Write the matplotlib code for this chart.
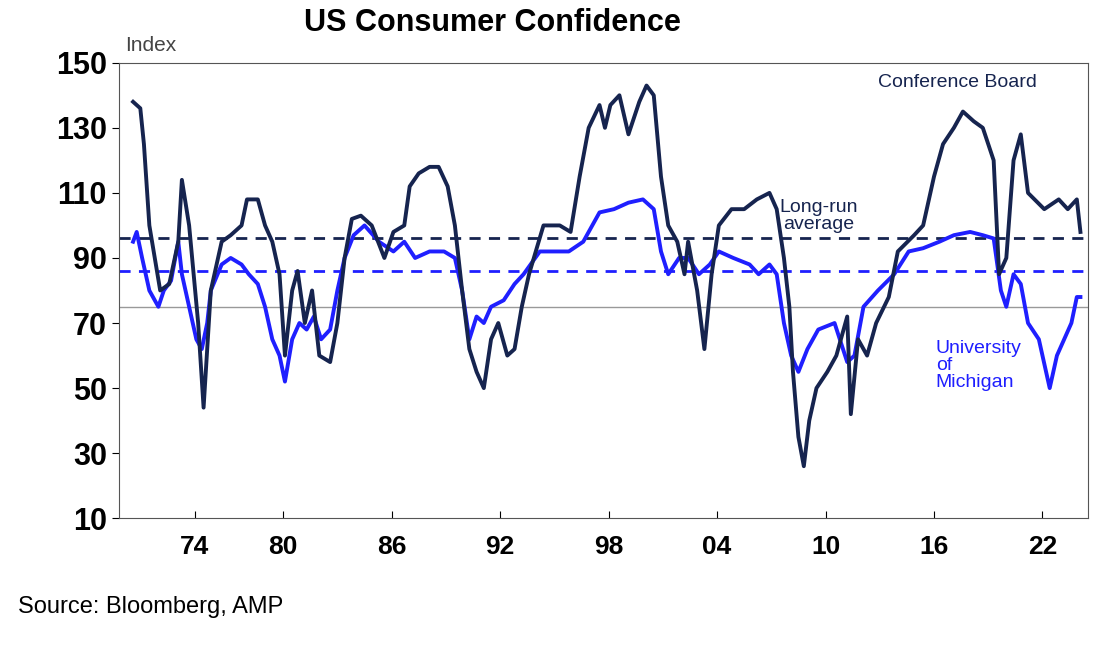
import matplotlib.pyplot as plt

plt.rcParams['font.family'] = ['Liberation Sans', 'DejaVu Sans']

# Conference Board index
cb_years = [1971.7, 1972.1, 1972.3, 1972.6, 1973.2, 1973.7, 1974.2, 1974.4, 1974.8, 1975.3,
            1975.6, 1976.0, 1976.6, 1977.1, 1977.7, 1978.0, 1978.6, 1979.0, 1979.4, 1979.8,
            1980.1, 1980.5, 1980.8, 1981.2, 1981.6, 1982.0, 1982.6, 1983.0, 1983.4, 1983.8,
            1984.3, 1984.9, 1985.6, 1986.1, 1986.7, 1987.0, 1987.5, 1988.1, 1988.6, 1989.1,
            1989.5, 1989.9, 1990.3, 1990.7, 1991.1, 1991.5, 1991.9, 1992.4, 1992.8, 1993.2,
            1993.6, 1994.4, 1995.3, 1995.9, 1996.4, 1996.9, 1997.5, 1997.8, 1998.1, 1998.6,
            1999.1, 1999.7, 2000.1, 2000.5, 2000.9, 2001.3, 2001.8, 2002.2, 2002.4, 2002.9,
            2003.3, 2003.7, 2004.1, 2004.8, 2005.5, 2006.2, 2006.9, 2007.3, 2007.7, 2008.0,
            2008.2, 2008.5, 2008.8, 2009.1, 2009.5, 2010.1, 2010.6, 2011.2, 2011.4, 2011.8,
            2012.3, 2012.8, 2013.5, 2014.0, 2014.9, 2015.4, 2016.0, 2016.5, 2017.1, 2017.6,
            2018.2, 2018.7, 2019.3, 2019.6, 2020.0, 2020.4, 2020.8, 2021.2, 2022.1, 2022.9,
            2023.4, 2023.9, 2024.1]
cb_values = [138, 136, 125, 100, 80, 82, 95, 114, 100, 70,
             44, 80, 95, 97, 100, 108, 108, 100, 95, 85,
             60, 80, 86, 70, 80, 60, 58, 70, 90, 102,
             103, 100, 90, 98, 100, 112, 116, 118, 118, 112,
             100, 80, 62, 55, 50, 65, 70, 60, 62, 75,
             85, 100, 100, 98, 115, 130, 137, 130, 137, 140,
             128, 138, 143, 140, 115, 100, 95, 85, 95, 80,
             62, 85, 100, 105, 105, 108, 110, 105, 90, 75,
             55, 35, 26, 40, 50, 55, 60, 72, 42, 65,
             60, 70, 78, 92, 97, 100, 115, 125, 130, 135,
             132, 130, 120, 85, 90, 120, 128, 110, 105, 108,
             105, 108, 98]

# University of Michigan sentiment
um_years = [1971.7, 1971.9, 1972.2, 1972.6, 1973.1, 1973.4, 1973.8, 1974.2, 1974.4, 1974.8,
            1975.2, 1975.5, 1975.8, 1976.0, 1976.6, 1977.1, 1977.7, 1978.1, 1978.6, 1979.0,
            1979.4, 1979.8, 1980.1, 1980.5, 1980.9, 1981.3, 1981.7, 1982.1, 1982.6, 1983.0,
            1983.4, 1983.9, 1984.5, 1985.3, 1986.1, 1986.7, 1987.3, 1988.1, 1988.9, 1989.5,
            1989.9, 1990.3, 1990.7, 1991.1, 1991.5, 1992.2, 1992.8, 1993.3, 1994.2, 1995.0,
            1995.8, 1996.6, 1997.5, 1998.3, 1999.1, 1999.9, 2000.5, 2000.9, 2001.3, 2001.9,
            2002.4, 2003.0, 2003.6, 2004.1, 2004.9, 2005.8, 2006.3, 2006.9, 2007.3, 2007.7,
            2008.1, 2008.5, 2009.0, 2009.6, 2010.5, 2011.2, 2011.6, 2012.1, 2012.9, 2013.8,
            2014.6, 2015.4, 2016.3, 2017.1, 2018.0, 2018.7, 2019.3, 2019.7, 2020.0, 2020.4,
            2020.8, 2021.2, 2021.8, 2022.2, 2022.4, 2022.8, 2023.2, 2023.6, 2023.9, 2024.1]
um_values = [95, 98, 90, 80, 75, 80, 83, 95, 85, 75,
             65, 62, 70, 80, 88, 90, 88, 85, 82, 75,
             65, 60, 52, 65, 70, 68, 72, 65, 68, 80,
             90, 97, 100, 95, 92, 95, 90, 92, 92, 90,
             80, 65, 72, 70, 75, 77, 82, 85, 92, 92,
             92, 95, 104, 105, 107, 108, 105, 92, 85, 90,
             90, 85, 88, 92, 90, 88, 85, 88, 85, 70,
             60, 55, 62, 68, 70, 58, 60, 75, 80, 85,
             92, 93, 95, 97, 98, 97, 96, 80, 75, 85,
             82, 70, 65, 55, 50, 60, 65, 70, 78, 78]

cb_avg = 96
um_avg = 86
ref_line = 75
xtick_pos = [1975.1, 1980, 1986, 1992, 1998, 2004, 2010, 2016, 2022]
xtick_labels = ['74', '80', '86', '92', '98', '04', '10', '16', '22']

navy = '#16244f'
blue = '#1f1fff'

fig = plt.figure(figsize=(11.19, 6.47), dpi=100)
ax = fig.add_axes([0.106, 0.199, 0.866, 0.704])

ax.axhline(ref_line, color='#999999', lw=1)
ax.axhline(cb_avg, color=navy, lw=2, ls=(0, (4, 3)))
ax.axhline(um_avg, color=blue, lw=2, ls=(0, (4, 3)))
ax.plot(um_years, um_values, color=blue, lw=2.8)
ax.plot(cb_years, cb_values, color=navy, lw=2.8)

ax.set_xlim(1970.9, 2024.5)
ax.set_ylim(10, 150)
ax.set_yticks(range(10, 151, 20))
ax.set_xticks(xtick_pos)
ax.set_xticklabels(xtick_labels)
for lab in ax.get_xticklabels() + ax.get_yticklabels():
    lab.set_fontweight('bold')
ax.tick_params(axis='y', labelsize=22, direction='out', length=5)
ax.tick_params(axis='x', labelsize=19, direction='in', length=5, pad=12)
for s in ax.spines.values():
    s.set_color('#555555')

fig.text(0.44, 0.965, 'US Consumer Confidence', ha='center', va='center',
         fontsize=22, fontweight='bold')
fig.text(0.112, 0.93, 'Index', ha='left', va='center', fontsize=15, color='#444444')
ax.text(2012.9, 144, 'Conference Board', color=navy, fontsize=14, ha='left', va='center')
ax.text(2009.6, 103, 'Long-run\naverage', color=navy, fontsize=14, ha='center', va='center',
        linespacing=1.0)
ax.text(2016.1, 57, 'University\nof\nMichigan', color=blue, fontsize=14, ha='left', va='center',
        linespacing=1.0)
fig.text(0.016, 0.062, 'Source: Bloomberg, AMP', fontsize=17, ha='left', va='center')

fig.savefig('out.png', dpi=100)
